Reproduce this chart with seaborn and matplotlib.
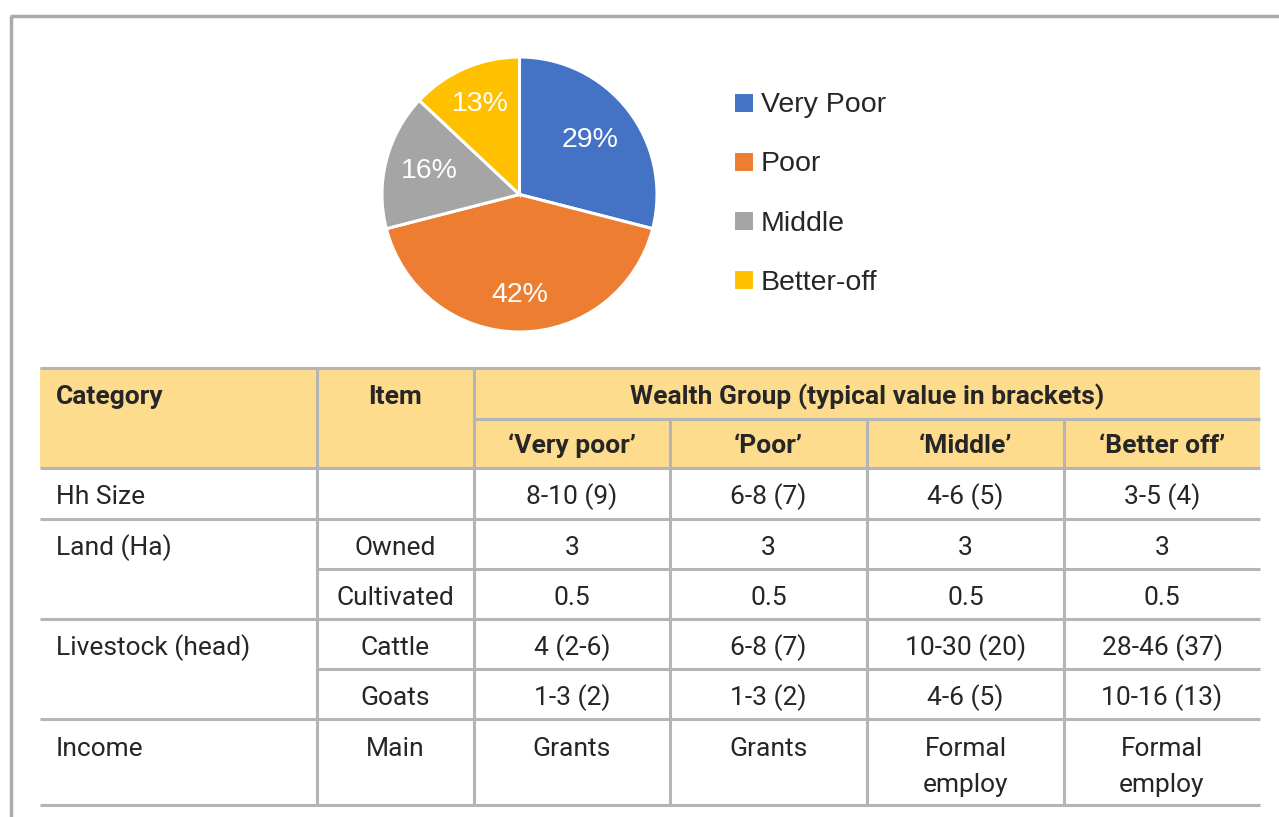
import matplotlib
matplotlib.use("Agg")
import numpy as np
import matplotlib.pyplot as plt
import seaborn as sns

# pie data
groups = ["Very Poor", "Poor", "Middle", "Better-off"]
shares = [29, 42, 16, 13]
pie_colors = ["#4472C4", "#ED7D31", "#A5A5A5", "#FFC000"]
label_dist = [0.65, 0.73, 0.68, 0.72]

# table data
head_cat = "Category"
head_item = "Item"
head_group = "Wealth Group (typical value in brackets)"
wealth_groups = ["‘Very poor’", "‘Poor’", "‘Middle’", "‘Better off’"]
row_category = ["Hh Size", "Land (Ha)", "", "Livestock (head)", "", "Income"]
row_item = ["", "Owned", "Cultivated", "Cattle", "Goats", "Main"]
very_poor = ["8-10 (9)", "3", "0.5", "4 (2-6)", "1-3 (2)", "Grants"]
poor = ["6-8 (7)", "3", "0.5", "6-8 (7)", "1-3 (2)", "Grants"]
middle = ["4-6 (5)", "3", "0.5", "10-30 (20)", "4-6 (5)", "Formal\nemploy"]
better_off = ["3-5 (4)", "3", "0.5", "28-46 (37)", "10-16 (13)", "Formal\nemploy"]

sns.set_theme(style="white")
plt.rcParams['font.family'] = ['Roboto', 'DejaVu Sans']

W, H = 1279, 817
fig = plt.figure(figsize=(W / 100, H / 100), dpi=100)
ax = fig.add_axes([0, 0, 1, 1])
ax.set_xlim(0, W)
ax.set_ylim(H, 0)
ax.axis('off')

# outer frame
ax.plot([10, W], [16, 16], color="#ababab", lw=2.5, solid_capstyle='butt')
ax.plot([11, 11], [16, H], color="#ababab", lw=2.5, solid_capstyle='butt')

# pie
cx, cy, r = 519.5, 194.5, 137.5
pax = fig.add_axes([(cx - r) / W, (H - cy - r) / H, 2 * r / W, 2 * r / H])
palette = sns.color_palette(pie_colors)
wedges, _, autotexts = pax.pie(
    shares, colors=palette, startangle=90, counterclock=False,
    autopct=lambda p: f"{p:.0f}%", pctdistance=0.68,
    wedgeprops=dict(edgecolor="white", linewidth=2.2),
    textprops=dict(color="white", fontsize=20.5, family="Liberation Sans"))
for w, t, d in zip(wedges, autotexts, label_dist):
    w.set_clip_on(False)
    mid = np.deg2rad((w.theta1 + w.theta2) / 2)
    t.set_position((d * np.cos(mid), d * np.sin(mid)))
pax.set_xlim(-1, 1)
pax.set_ylim(-1, 1)
pax.legend(wedges, groups, loc="upper left",
           bbox_to_anchor=(733 / W, 1 - 92 / H), bbox_transform=fig.transFigure,
           frameon=False, prop=dict(family="Liberation Sans", size=20.5),
           handlelength=0.75, handleheight=0.75, handletextpad=0.22,
           labelspacing=1.15, borderpad=0, borderaxespad=0)

# table layout
x_edges = [40, 317, 474, 670, 867, 1064, 1260]
y_head = [368, 419, 468]
y_rows = [468, 519, 569, 619, 669, 719, 805]
grid = "#b5b5b5"
lw = 2.2

ax.fill_between([x_edges[0], x_edges[-1]], y_head[0], y_head[2], color="#FDDC8E", lw=0)

ax.hlines(y_head[0], x_edges[0], x_edges[-1], color=grid, lw=lw)
ax.hlines(y_head[1], x_edges[2], x_edges[-1], color=grid, lw=lw)
for i, y in enumerate(y_rows):
    start = x_edges[1] if i in (2, 4) else x_edges[0]
    ax.hlines(y, start, x_edges[-1], color=grid, lw=lw)
ax.vlines(x_edges[1:3], y_head[0], y_rows[-1], color=grid, lw=lw)
ax.vlines(x_edges[3:6], y_head[1], y_rows[-1], color=grid, lw=lw)

fs = 19
ax.text(56, 404, head_cat, ha="left", va="baseline", fontsize=fs, fontweight="bold")
ax.text((x_edges[1] + x_edges[2]) / 2, 404, head_item, ha="center", va="baseline",
        fontsize=fs, fontweight="bold")
ax.text((x_edges[2] + x_edges[-1]) / 2, 404, head_group, ha="center", va="baseline",
        fontsize=fs, fontweight="bold")
for j, g in enumerate(wealth_groups):
    ax.text((x_edges[j + 2] + x_edges[j + 3]) / 2, 453, g, ha="center", va="baseline",
            fontsize=fs, fontweight="bold")

columns = [very_poor, poor, middle, better_off]
for i in range(len(row_item)):
    yb = y_rows[i] + 36 if i < 5 else 756
    ax.text(56, yb, row_category[i], ha="left", va="baseline", fontsize=fs)
    ax.text((x_edges[1] + x_edges[2]) / 2, yb, row_item[i], ha="center", va="baseline",
            fontsize=fs)
    for j, col in enumerate(columns):
        xc = (x_edges[j + 2] + x_edges[j + 3]) / 2
        for k, line in enumerate(col[i].split("\n")):
            ax.text(xc, yb + 36 * k, line, ha="center", va="baseline", fontsize=fs)

fig.savefig("out.png", dpi=100)
